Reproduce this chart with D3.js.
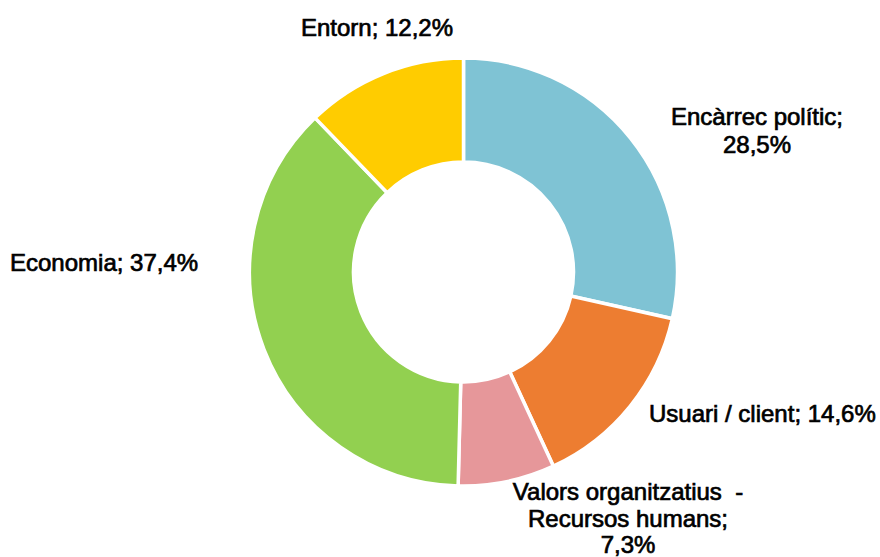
<!DOCTYPE html>
<html>
<head>
<meta charset="utf-8">
<script src="https://cdn.jsdelivr.net/npm/d3@7"></script>
<style>
  html, body { margin: 0; padding: 0; background: #fff; }
  svg { display: block; }
  text { font-family: "Liberation Sans", Arial, sans-serif; font-size: 24px; fill: #000; stroke: #000; stroke-width: 0.7px; }
</style>
</head>
<body>
<svg id="chart" width="880" height="557"></svg>
<script>
// Data
const categories = ["Encàrrec polític", "Usuari / client", "Valors organitzatius  - Recursos humans", "Economia", "Entorn"];
const values = [28.5, 14.6, 7.3, 37.4, 12.2];
const colors = ["#7fc3d4", "#ed7d31", "#e6979a", "#92d050", "#ffcc00"];
const labelLines = [
  ["Encàrrec polític;", "28,5%"],
  ["Usuari / client; 14,6%"],
  ["Valors organitzatius  -", "Recursos humans;", "7,3%"],
  ["Economia; 37,4%"],
  ["Entorn; 12,2%"]
];

// Layout (label anchors: x, first baseline y, anchor, line step)
const labelLayout = [
  { x: 757, y: 125, anchor: "middle", step: 28 },
  { x: 649, y: 422, anchor: "start", step: 28 },
  { x: 628, y: 500, anchor: "middle", step: 26.5 },
  { x: 10,  y: 271, anchor: "start", step: 28 },
  { x: 377, y: 36,  anchor: "middle", step: 28 }
];

const svg = d3.select("#chart");
const cx = 463.5, cy = 272;
const outerR = 214, innerR = 110;

const pie = d3.pie().sort(null).value(d => d);
const arcs = pie(values);
const arc = d3.arc().innerRadius(innerR).outerRadius(outerR);
const color = d3.scaleOrdinal().domain(d3.range(values.length)).range(colors);

const g = svg.append("g").attr("transform", `translate(${cx},${cy})`);
g.selectAll("path")
  .data(arcs)
  .join("path")
  .attr("d", arc)
  .attr("fill", (d, i) => color(i))
  .attr("stroke", "#fff")
  .attr("stroke-width", 3.5)
  .attr("stroke-linejoin", "miter");

const lg = svg.append("g");
labelLines.forEach((lines, i) => {
  const L = labelLayout[i];
  const t = lg.append("text")
    .attr("text-anchor", L.anchor)
    .attr("xml:space", "preserve");
  lines.forEach((ln, j) => {
    t.append("tspan")
      .attr("x", L.x)
      .attr("y", L.y + j * L.step)
      .text(ln);
  });
});
</script>
</body>
</html>
